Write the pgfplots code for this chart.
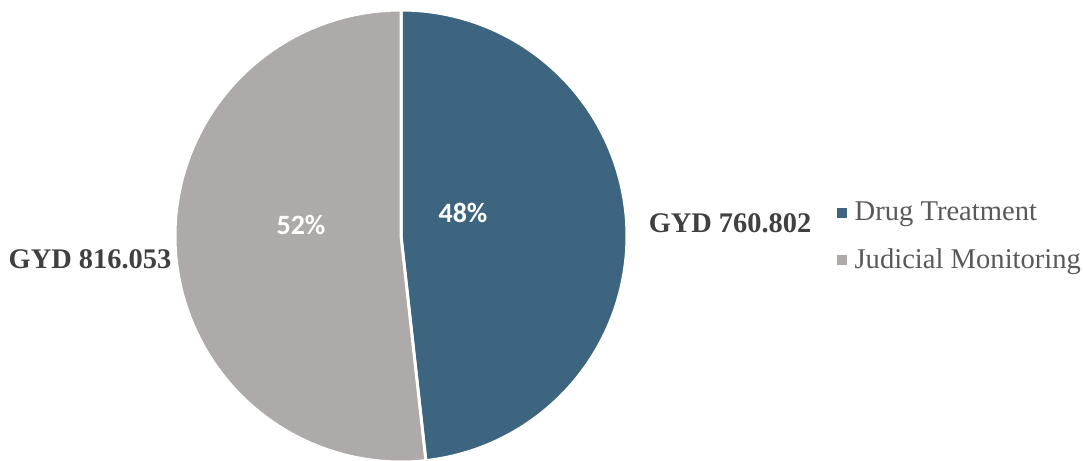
\documentclass[border=0pt]{standalone}
\usepackage{pgfplots}
\pgfplotsset{compat=1.18}
\usepackage{fontspec}
\setmainfont{Liberation Serif}
\newfontfamily\carlito{Carlito}
\definecolor{cDrug}{RGB}{61,101,128}
\definecolor{cJud}{RGB}{173,170,169}
\definecolor{cLab}{RGB}{64,64,64}
\definecolor{cLeg}{RGB}{89,89,89}
\def\vDrug{760.802}
\def\vJud{816.053}
\pgfmathsetmacro{\tot}{\vDrug+\vJud}
\pgfmathsetmacro{\frA}{\vDrug/\tot}
\pgfmathsetmacro{\angA}{90-360*\frA}
\begin{document}
\begin{tikzpicture}
\begin{axis}[
  scale only axis, width=541.5pt, height=230.5pt,
  xmin=0, xmax=1083, ymin=0, ymax=461,
  hide axis, clip=false,
  legend style={at={(axis cs:837,224)}, anchor=west, draw=none, fill=none,
    font=\fontsize{14.3pt}{16pt}\selectfont\color{cLeg}, row sep=7.5pt, inner sep=0pt,
    nodes={inner xsep=3.6pt, inner ysep=2.5pt}},
  legend cell align=left,
  legend image code/.code={\path[fill,draw=none] (0pt,-2.5pt) rectangle (5pt,2.5pt);},
]
\addplot[fill=cDrug, draw=white, line width=1.5pt, domain=90:\angA, samples=300, variable=\t]
  ({401+226*cos(\t)},{225+226*sin(\t)}) -- (401,225) -- cycle;
\addlegendentry{Drug Treatment}
\addplot[fill=cJud, draw=white, line width=1.5pt, domain=\angA:-270, samples=300, variable=\t]
  ({401+226*cos(\t)},{225+226*sin(\t)}) -- (401,225) -- cycle;
\addlegendentry{Judicial Monitoring}
\node[text=white, font=\carlito\bfseries\fontsize{14pt}{16pt}\selectfont] at (axis cs:463,248) {48\%};
\node[text=white, font=\carlito\bfseries\fontsize{14pt}{16pt}\selectfont] at (axis cs:301,236) {52\%};
\node[text=cLab, font=\bfseries\fontsize{14.2pt}{16pt}\selectfont] at (axis cs:730,238) {GYD 760.802};
\node[text=cLab, font=\bfseries\fontsize{14.2pt}{16pt}\selectfont] at (axis cs:90,202) {GYD 816.053};
\end{axis}
\pgfresetboundingbox
\path (current axis.south west) rectangle (current axis.north east);
\end{tikzpicture}
\end{document}
